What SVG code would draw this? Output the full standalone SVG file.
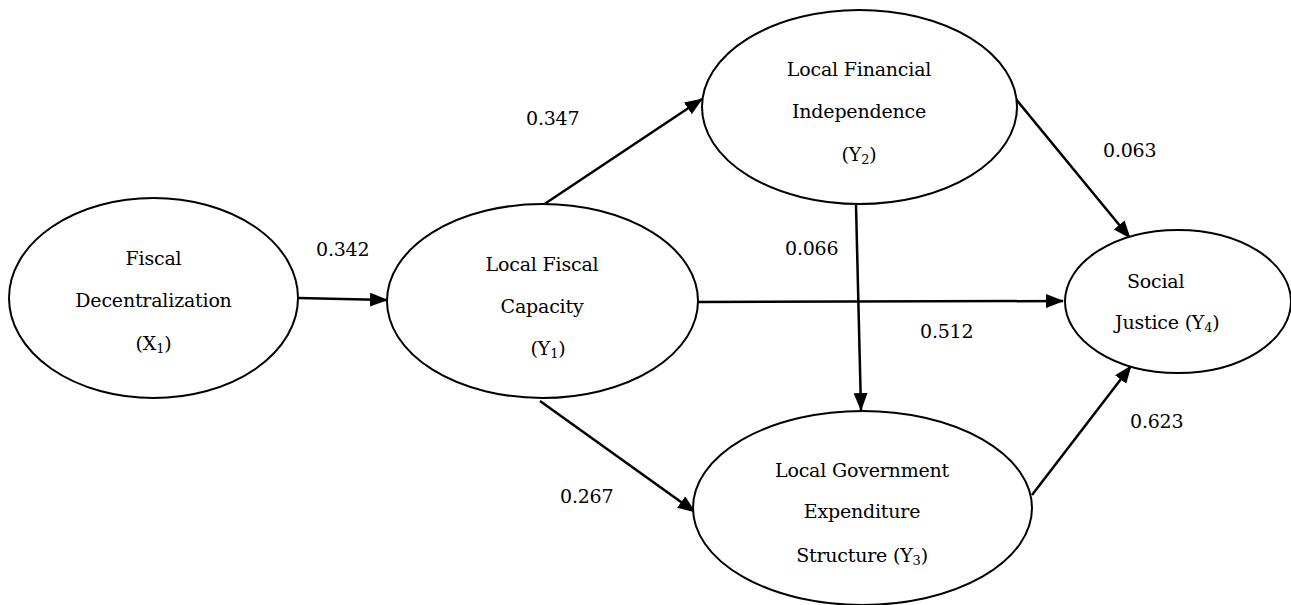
<svg xmlns="http://www.w3.org/2000/svg" width="1291" height="605" viewBox="0 0 1291 605">
<style>
.n{fill:#fff;stroke:#000;stroke-width:2}
.t{font-family:'DejaVu Serif','Liberation Serif',serif;font-size:19px;letter-spacing:-0.2px;fill:#000}
.c{text-anchor:middle}
.e{fill:none;stroke:#000;stroke-width:2.5}
</style>
<defs>
<marker id="ah" markerUnits="userSpaceOnUse" markerWidth="18" markerHeight="14" viewBox="0 0 18 14" refX="17" refY="7" orient="auto">
<path d="M0,0 L18,7 L0,14 z" fill="#000"/>
</marker>
</defs>
<rect width="1291" height="605" fill="#fff"/>
<g id="connectors">
<line class="e" x1="298" y1="298" x2="387" y2="300" marker-end="url(#ah)"/>
<line class="e" x1="540" y1="207" x2="702" y2="99" marker-end="url(#ah)"/>
<line class="e" x1="698" y1="302" x2="1063" y2="301" marker-end="url(#ah)"/>
<line class="e" x1="540" y1="401" x2="695" y2="512" marker-end="url(#ah)"/>
<line class="e" x1="856" y1="205" x2="861" y2="410" marker-end="url(#ah)"/>
<line class="e" x1="1015" y1="98" x2="1130" y2="238" marker-end="url(#ah)"/>
<line class="e" x1="1032" y1="495" x2="1131" y2="366" marker-end="url(#ah)"/>
</g>
<g id="X1">
<ellipse class="n" cx="153.5" cy="298" rx="144.5" ry="100"/>
<text class="t c" x="153.5" y="265">Fiscal</text>
<text class="t c" x="153.5" y="307">Decentralization</text>
<text class="t c" x="153.5" y="350">(X<tspan font-size="13" dy="3">1</tspan><tspan dy="-3">)</tspan></text>
</g>
<g id="Y1">
<ellipse class="n" cx="542.5" cy="301" rx="155.5" ry="97"/>
<text class="t c" x="542" y="271">Local Fiscal</text>
<text class="t c" x="542" y="313">Capacity</text>
<text class="t c" x="548" y="355">(Y<tspan font-size="13" dy="3">1</tspan><tspan dy="-3">)</tspan></text>
</g>
<g id="Y2">
<ellipse class="n" cx="859.5" cy="107" rx="157.5" ry="97"/>
<text class="t c" x="859" y="76">Local Financial</text>
<text class="t c" x="859" y="118">Independence</text>
<text class="t c" x="859" y="161">(Y<tspan font-size="13" dy="3">2</tspan><tspan dy="-3">)</tspan></text>
</g>
<g id="Y3">
<ellipse class="n" cx="862.5" cy="508" rx="169.5" ry="97"/>
<text class="t c" x="862" y="477">Local Government</text>
<text class="t c" x="862" y="518">Expenditure</text>
<text class="t c" x="862" y="562">Structure (Y<tspan font-size="13" dy="3">3</tspan><tspan dy="-3">)</tspan></text>
</g>
<g id="Y4">
<ellipse class="n" cx="1178" cy="301.5" rx="113" ry="71.5"/>
<text class="t" x="1127" y="288">Social</text>
<text class="t" x="1115" y="329">Justice (Y<tspan font-size="13" dy="3">4</tspan><tspan dy="-3">)</tspan></text>
</g>
<g id="labels">
<text class="t" x="316" y="256">0.342</text>
<text class="t" x="526" y="125">0.347</text>
<text class="t" x="1103" y="157">0.063</text>
<text class="t" x="785" y="255">0.066</text>
<text class="t" x="920" y="338">0.512</text>
<text class="t" x="1130" y="428">0.623</text>
<text class="t" x="560" y="503">0.267</text>
</g>
</svg>
